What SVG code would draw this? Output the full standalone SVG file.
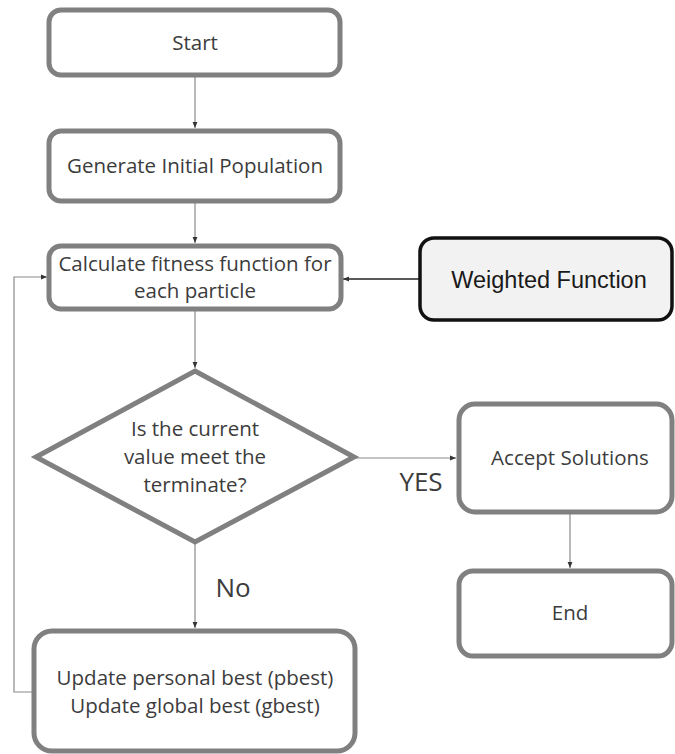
<svg xmlns="http://www.w3.org/2000/svg" width="675" height="754" viewBox="0 0 675 754">
<defs>
<marker id="arr" viewBox="0 0 10 10" refX="10" refY="5" markerWidth="6" markerHeight="6" orient="auto" markerUnits="userSpaceOnUse">
<path d="M0,1 L10,5 L0,9 Z" fill="#333"/>
</marker>
</defs>
<style>
.box{fill:#fff;stroke:#808080;stroke-width:5}
.wbox{fill:#f2f2f2;stroke:#111;stroke-width:3.5}
.t{font-family:"Open Sans","Noto Sans",sans-serif;font-size:20.5px;fill:#3c3c3c;text-anchor:middle;dominant-baseline:central}
.ta{font-family:"Liberation Sans",Arial,sans-serif;font-size:23.5px;fill:#1a1a1a;text-anchor:middle;dominant-baseline:central}
.lbl{font-family:"Open Sans","Noto Sans",sans-serif;font-size:26px;fill:#3c3c3c;text-anchor:middle;dominant-baseline:central}
.c{fill:none;stroke:#8a8a8a;stroke-width:1.2}
.cb{fill:none;stroke:#222;stroke-width:1.4}
</style>
<rect width="675" height="754" fill="#fff"/>
<g id="connectors">
<line class="c" x1="195" y1="75" x2="195" y2="128" marker-end="url(#arr)"/>
<line class="c" x1="195" y1="202" x2="195" y2="243" marker-end="url(#arr)"/>
<line class="c" x1="195" y1="310" x2="195" y2="368" marker-end="url(#arr)"/>
<line class="cb" x1="419" y1="279" x2="343" y2="279" marker-end="url(#arr)"/>
<line class="c" x1="355" y1="458" x2="456" y2="458" marker-end="url(#arr)"/>
<line class="c" x1="570" y1="512" x2="570" y2="568" marker-end="url(#arr)"/>
<line class="c" x1="195" y1="543" x2="195" y2="628" marker-end="url(#arr)"/>
<polyline class="c" points="33,692 14,692 14,277 47,277" marker-end="url(#arr)"/>
<text class="lbl" x="421" y="481">YES</text>
<text class="lbl" x="233" y="587">No</text>
</g>
<g id="start">
<rect class="box" x="49" y="10" width="291" height="65" rx="12"/>
<text class="t" x="195" y="42">Start</text>
</g>
<g id="generate">
<rect class="box" x="49" y="131" width="291" height="70" rx="12"/>
<text class="t" x="195" y="165">Generate Initial Population</text>
</g>
<g id="calculate">
<rect class="box" x="49" y="246" width="292" height="63" rx="12"/>
<text class="t" x="195" y="263">Calculate fitness function for</text>
<text class="t" x="195" y="290">each particle</text>
</g>
<g id="weighted">
<rect class="wbox" x="420" y="238" width="252" height="82" rx="14"/>
<text class="ta" x="549" y="280">Weighted Function</text>
</g>
<g id="decision">
<polygon class="box" points="195,371 354,457 195,542 36,457"/>
<text class="t" x="195" y="428">Is the current</text>
<text class="t" x="195" y="456">value meet the</text>
<text class="t" x="195" y="484">terminate?</text>
</g>
<g id="accept">
<rect class="box" x="459" y="404" width="213" height="108" rx="16"/>
<text class="t" x="570" y="457">Accept Solutions</text>
</g>
<g id="end">
<rect class="box" x="459" y="571" width="213" height="85" rx="14"/>
<text class="t" x="570" y="612">End</text>
</g>
<g id="update">
<rect class="box" x="34" y="631" width="321" height="120" rx="18"/>
<text class="t" x="195" y="677">Update personal best (pbest)</text>
<text class="t" x="195" y="705">Update global best (gbest)</text>
</g>
</svg>
